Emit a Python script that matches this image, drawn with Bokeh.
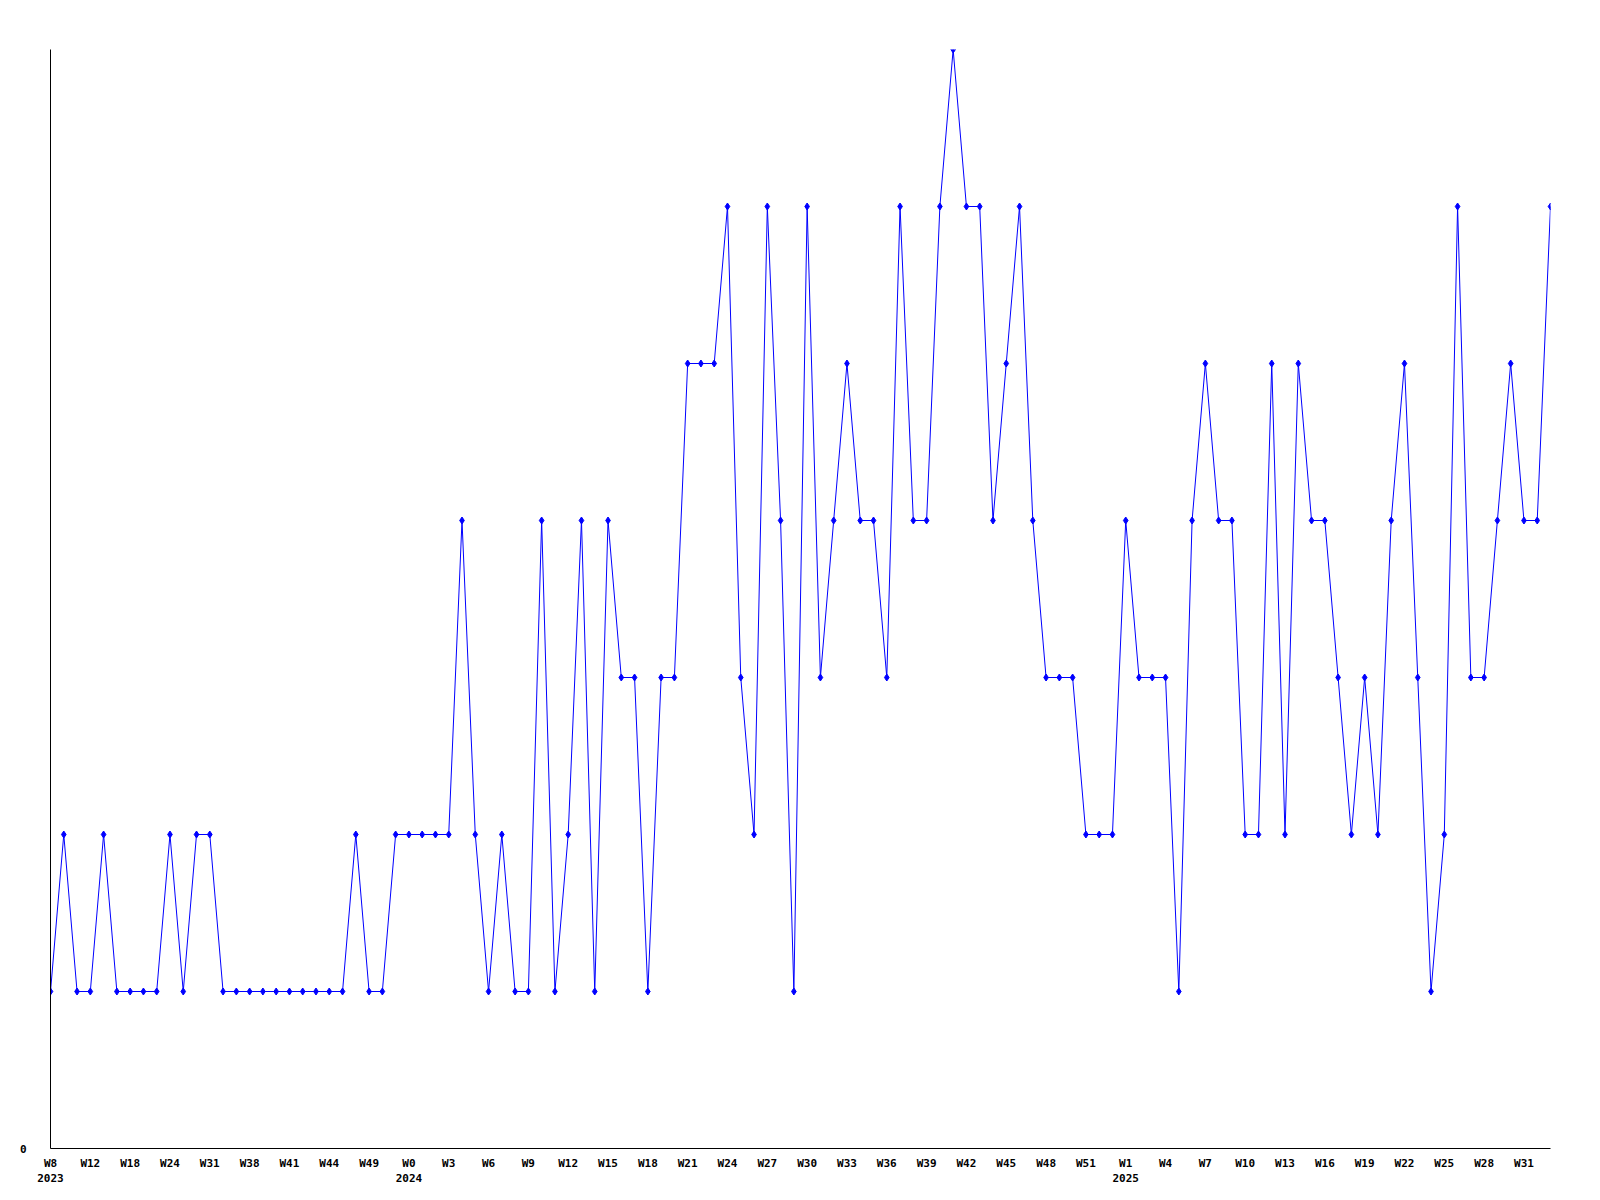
from bokeh.plotting import figure
from bokeh.models import ColumnDataSource, FixedTicker, LinearAxis, Range1d
from bokeh.embed import file_html
from bokeh.resources import INLINE

# Weekly values (index = consecutive data point)
values = [1, 2, 1, 1, 2, 1, 1, 1, 1, 2, 1, 2, 2, 1, 1, 1, 1, 1, 1, 1, 1, 1, 1, 2, 1, 1, 2,
          2, 2, 2, 2, 4, 2, 1, 2, 1, 1, 4, 1, 2, 4, 1, 4, 3, 3, 1, 3, 3, 5, 5, 5, 6, 3, 2,
          6, 4, 1, 6, 3, 4, 5, 4, 4, 3, 6, 4, 4, 6, 7, 6, 6, 4, 5, 6, 4, 3, 3, 3, 2, 2, 2,
          4, 3, 3, 3, 1, 4, 5, 4, 4, 2, 2, 5, 2, 5, 4, 4, 3, 2, 3, 2, 4, 5, 3, 1, 2, 6, 3,
          3, 4, 5, 4, 4, 6]

tick_index = [0, 3, 6, 9, 12, 15, 18, 21, 24, 27, 30, 33, 36, 39, 42, 45, 48, 51, 54,
              57, 60, 63, 66, 69, 72, 75, 78, 81, 84, 87, 90, 93, 96, 99, 102, 105, 108, 111]
tick_labels = ["W8", "W12", "W18", "W24", "W31", "W38", "W41", "W44", "W49",
               "W0", "W3", "W6", "W9", "W12", "W15", "W18", "W21", "W24", "W27",
               "W30", "W33", "W36", "W39", "W42", "W45", "W48", "W51",
               "W1", "W4", "W7", "W10", "W13", "W16", "W19", "W22", "W25", "W28", "W31"]

year_index = [0, 27, 81]
year_labels = ["2023", "2024", "2025"]

x = list(range(len(values)))
src = ColumnDataSource(data=dict(x=x, y=values))

p = figure(width=1584, height=1184, output_backend="svg", toolbar_location=None,
           min_border_left=50, min_border_right=34, min_border_top=49, min_border_bottom=36,
           x_range=Range1d(0, len(values) - 1), y_range=Range1d(0, max(values)))
p.outline_line_color = None
p.xgrid.visible = False
p.ygrid.visible = False
p.background_fill_color = "white"
p.border_fill_color = "white"

p.line("x", "y", source=src, line_color="#0000ff", line_width=1)
p.scatter("x", "y", source=src, marker="diamond", size=7, fill_color="#0000ff",
          line_color="#0000ff", line_width=1)

FONT = "DejaVu Sans Mono"


def style_axis(ax, standoff):
    ax.major_tick_out = 0
    ax.major_tick_in = 0
    ax.minor_tick_out = 0
    ax.minor_tick_in = 0
    ax.major_label_standoff = standoff
    ax.major_label_text_font = FONT
    ax.major_label_text_font_style = "bold"
    ax.major_label_text_font_size = "11px"
    ax.major_label_text_color = "black"


xa = p.xaxis[0]
xa.ticker = FixedTicker(ticks=tick_index)
xa.major_label_overrides = {i: l for i, l in zip(tick_index, tick_labels)}
style_axis(xa, 8)
xa.axis_line_color = "black"

ya = p.yaxis[0]
ya.ticker = FixedTicker(ticks=[0])
style_axis(ya, 24)
ya.axis_line_color = "black"

# second row of x labels: years
yr = LinearAxis(ticker=FixedTicker(ticks=year_index),
                major_label_overrides={i: l for i, l in zip(year_index, year_labels)})
style_axis(yr, 1)
yr.axis_line_color = None
p.add_layout(yr, "below")

open("out.html", "w").write(file_html(p, INLINE))
